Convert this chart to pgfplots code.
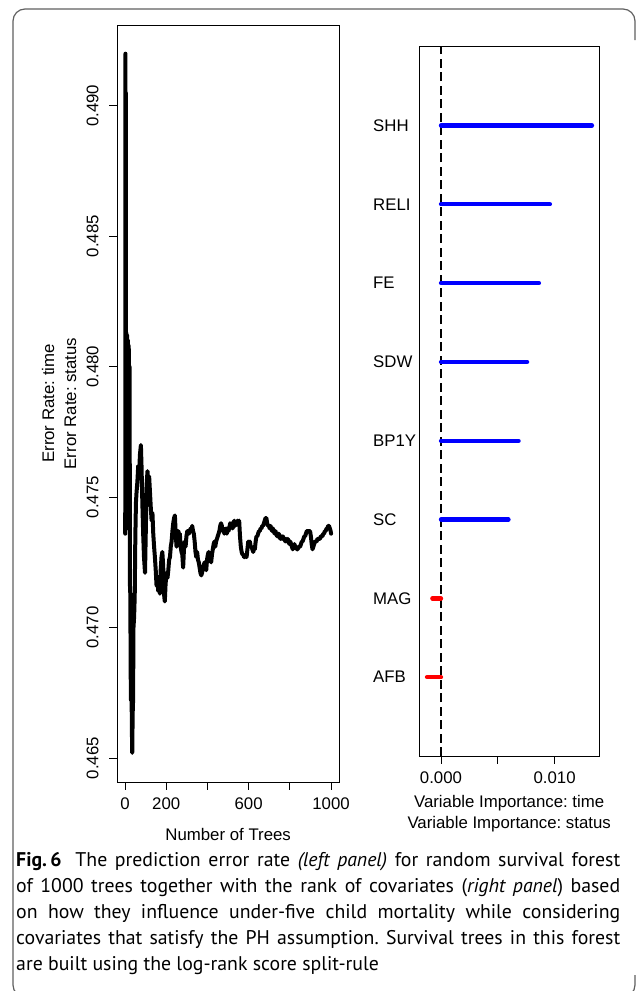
\documentclass[border=0pt]{standalone}
\usepackage{fontspec}
\setmainfont{Liberation Sans}
\newfontfamily\capfont{PT Sans}
\usepackage{pgfplots}
\pgfplotsset{compat=1.18}
\usepackage{pgfplotstable}

\pgfplotstableread{
trees err
1 0.4736
2 0.4920
3 0.4745
4 0.4905
5 0.4740
6 0.4813
8 0.4738
10 0.4812
12 0.4740
14 0.4810
16 0.4745
18 0.4808
20 0.4742
22 0.4800
24 0.4716
26 0.4712
27 0.4685
29 0.4672
31 0.4690
33 0.4662
35 0.4652
37 0.4667
39 0.4672
41 0.4700
44 0.4704
47 0.4712
50 0.4735
53 0.4748
56 0.4752
60 0.4756
64 0.4762
68 0.4757
72 0.4766
77 0.4770
80 0.4762
84 0.4748
88 0.4736
92 0.4727
97 0.4721
101 0.4738
105 0.4755
109 0.4760
113 0.4754
117 0.4758
121 0.4752
125 0.4746
129 0.4741
133 0.4744
137 0.4736
141 0.4731
145 0.4727
149 0.4722
153 0.4716
157 0.4719
161 0.4714
165 0.4717
169 0.4713
173 0.4722
177 0.4727
181 0.4729
185 0.4724
189 0.4713
193 0.4710
197 0.4717
202 0.4721
206 0.4719
210 0.4722
214 0.4726
218 0.4727
222 0.4731
226 0.4733
230 0.4737
234 0.4740
238 0.4742
242 0.4743
246 0.4736
250 0.4731
254 0.4735
258 0.4737
262 0.4736
266 0.4736
270 0.4731
274 0.4729
278 0.4728
282 0.4723
286 0.4730
290 0.4733
294 0.4731
298 0.4735
302 0.4737
306 0.4737
310 0.4736
314 0.4737
318 0.4738
322 0.4737
326 0.4739
330 0.4737
334 0.4736
338 0.4733
342 0.4729
346 0.4727
350 0.4729
354 0.4726
358 0.4725
362 0.4723
366 0.4721
370 0.4720
374 0.4721
378 0.4723
382 0.4724
386 0.4725
390 0.4723
394 0.4722
398 0.4726
402 0.4728
406 0.4729
410 0.4727
414 0.4726
418 0.4725
422 0.4728
426 0.4730
430 0.4732
434 0.4733
438 0.4731
442 0.4733
446 0.4734
450 0.4735
454 0.4736
458 0.4737
462 0.4739
466 0.4740
470 0.4739
474 0.4737
478 0.4738
482 0.4736
486 0.4737
490 0.4738
494 0.4736
498 0.4738
502 0.4737
506 0.4738
510 0.4740
514 0.4739
518 0.4740
522 0.4738
526 0.4739
530 0.4741
534 0.4739
538 0.4740
542 0.4740
546 0.4741
550 0.4740
554 0.4741
558 0.4735
562 0.4731
566 0.4729
570 0.4728
574 0.4728
578 0.4727
582 0.4727
586 0.4728
590 0.4727
594 0.4730
598 0.4733
602 0.4732
606 0.4733
610 0.4731
614 0.4731
618 0.4730
622 0.4729
626 0.4730
630 0.4730
634 0.4733
638 0.4735
642 0.4735
646 0.4736
650 0.4737
654 0.4737
658 0.4738
662 0.4738
666 0.4739
670 0.4739
674 0.4740
678 0.4741
682 0.4742
686 0.4742
690 0.4740
694 0.4739
698 0.4739
702 0.4738
706 0.4739
710 0.4738
714 0.4737
718 0.4738
722 0.4737
726 0.4736
730 0.4737
734 0.4736
738 0.4735
742 0.4735
746 0.4736
750 0.4735
754 0.4734
758 0.4735
762 0.4734
766 0.4735
770 0.4734
774 0.4734
778 0.4733
782 0.4734
786 0.4733
790 0.4734
794 0.4733
798 0.4732
802 0.4733
806 0.4732
810 0.4731
814 0.4730
818 0.4731
822 0.4732
826 0.4731
830 0.4731
834 0.4730
838 0.4730
842 0.4731
846 0.4731
850 0.4731
854 0.4732
858 0.4733
862 0.4733
866 0.4734
870 0.4735
874 0.4735
878 0.4736
882 0.4737
886 0.4737
890 0.4737
894 0.4737
898 0.4737
902 0.4735
906 0.4732
910 0.4730
914 0.4731
918 0.4732
922 0.4733
926 0.4733
930 0.4733
934 0.4734
938 0.4734
942 0.4734
946 0.4734
950 0.4735
954 0.4735
958 0.4735
962 0.4736
966 0.4736
970 0.4737
974 0.4737
978 0.4738
982 0.4738
986 0.4739
990 0.4739
994 0.4738
998 0.4737
1000 0.4736
}\errtable

\pgfplotstableread{
pos vimp
8 0.01329
7 0.00959
6 0.00862
5 0.00758
4 0.00683
3 0.00594
}\vimppos

\pgfplotstableread{
pos vimp
2 -0.00076
1 -0.00123
}\vimpneg

\begin{document}
\frenchspacing
\begin{tikzpicture}
\useasboundingbox (0bp,0bp) rectangle (637bp,-991bp);
\begin{scope}
\clip (0bp,0bp) rectangle (637bp,-991bp);
\draw[gray!75!black, line width=1.2bp, rounded corners=12bp]
  (635bp,-40bp) -- (635bp,-9bp) -- (13bp,-9bp) -- (13bp,-997bp) -- (60bp,-997bp);
\draw[gray!75!black, line width=1.2bp, rounded corners=12bp]
  (600bp,-997bp) -- (635bp,-997bp) -- (635bp,-975bp);
\end{scope}

\pgfplotsset{
  rstyle/.style={
    scale only axis,
    axis line style={black, line width=0.9bp},
    tick style={black, line width=0.9bp},
    tick align=outside,
    major tick length=7.5bp,
    font=\fontsize{16.8bp}{21bp}\selectfont,
    xtick pos=bottom, ytick pos=left,
    scaled x ticks=false, scaled y ticks=false,
    clip=true,
  }
}

% Left panel
\begin{axis}[rstyle,
  at={(117bp,-782bp)}, anchor=south west,
  width=222.3bp, height=757bp,
  xmin=-39, xmax=1040, ymin=0.46408, ymax=0.4931,
  xtick={0,200,400,600,800,1000},
  xticklabels={0,200,,600,,1000},
  ytick={0.465,0.470,0.475,0.480,0.485,0.490},
  yticklabels={0.465,0.470,0.475,0.480,0.485,0.490},
  xticklabel style={anchor=center, inner sep=0pt, yshift=-14bp},
  yticklabel style={anchor=center, inner sep=0pt, xshift=-17bp, rotate=90},
  xlabel={Number of Trees},
  ylabel={Error Rate: time\\Error Rate: status},
  every axis x label/.style={at={(axis description cs:0.5,0)}, anchor=center, yshift=-52bp},
  every axis y label/.style={at={(axis description cs:0,0.5)}, xshift=-58bp, rotate=90, anchor=center, align=center, font=\fontsize{16.8bp}{22bp}\selectfont},
]
\addplot[black, line width=4bp, line join=round, line cap=round] table[x=trees, y=err] {\errtable};
\end{axis}

% Right panel
\begin{axis}[rstyle,
  at={(419.3bp,-756bp)}, anchor=south west,
  width=179.7bp, height=709.3bp,
  xmin=-0.00191, xmax=0.01391, ymin=0, ymax=9,
  xtick={0,0.005,0.010},
  xticklabels={0.000,,0.010},
  ytick={1,2,3,4,5,6,7,8},
  yticklabels={AFB,MAG,SC,BP1Y,SDW,FE,RELI,SHH},
  y tick style={draw=none},
  xticklabel style={anchor=center, inner sep=0pt, yshift=-14bp},
  yticklabel style={anchor=west, inner sep=0pt, xshift=-38.8bp},
  xlabel={Variable Importance: time\\Variable Importance: status},
  every axis x label/.style={at={(axis description cs:0.5,0)}, anchor=center, yshift=-57.7bp, align=center, font=\fontsize{16.8bp}{21.3bp}\selectfont},
]
\addplot[black, line width=2.2bp, dash pattern=on 9bp off 4.5bp] coordinates {(0,0) (0,9)};
\addplot[blue, line width=4.3bp, line cap=round, xcomb] table[x=vimp, y=pos] {\vimppos};
\addplot[red, line width=4.3bp, line cap=round, xcomb] table[x=vimp, y=pos] {\vimpneg};
\end{axis}

\node[anchor=north west, inner sep=0pt, text width=604bp, align=justify,
  font=\capfont\fontsize{19.8bp}{26bp}\selectfont] at (16bp,-852bp)
{\textbf{Fig.\,6}\hspace{0.7em}The prediction error rate \textit{(left panel)} for random survival forest\linebreak
of 1000 trees together with the rank of covariates (\textit{right panel}) based\linebreak
on how they influence under-five child mortality while considering\linebreak
covariates that satisfy the PH assumption. Survival trees in this forest\linebreak
are built using the log-rank score split-rule};
\end{tikzpicture}
\end{document}
